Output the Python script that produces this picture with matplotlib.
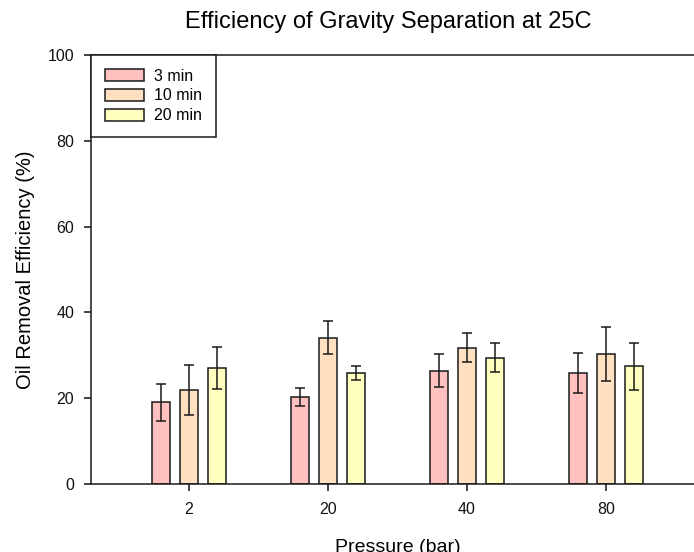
import numpy as np
import matplotlib
matplotlib.use("Agg")
import matplotlib.pyplot as plt

plt.rcParams['font.family'] = ['Liberation Sans', 'DejaVu Sans']

pressures = ['2', '20', '40', '80']
times = ['3 min', '10 min', '20 min']
eff_3 = [19.0, 20.3, 26.4, 25.9]
err_3 = [4.2, 2.1, 3.9, 4.6]
eff_10 = [21.9, 34.1, 31.8, 30.3]
err_10 = [5.9, 3.9, 3.3, 6.4]
eff_20 = [27.0, 25.9, 29.4, 27.4]
err_20 = [4.9, 1.6, 3.4, 5.4]
colors = ['#ffc0c0', '#ffe0c0', '#ffffc0']

W, H = 694, 552
fig = plt.figure(figsize=(W / 100, H / 100), dpi=100)
ax = fig.add_axes([91 / W, (H - 484) / H, (704 - 91) / W, (484 - 55) / H])

x = np.arange(len(pressures))
width = 0.126
for i, (vals, errs, lab) in enumerate(zip([eff_3, eff_10, eff_20],
                                           [err_3, err_10, err_20], times)):
    ax.bar(x + (i - 1) * 0.2, vals, width, yerr=errs, color=colors[i],
           edgecolor='#1a1a1a', linewidth=1.1, label=lab,
           error_kw=dict(ecolor='#1a1a1a', elinewidth=1.1, capsize=3.5,
                         capthick=1.1))

ax.set_xlim(-0.705, 3.705)
ax.set_ylim(0, 100)
ax.set_xticks(x)
ax.set_xticklabels(pressures)
ax.set_yticks(np.arange(0, 101, 20))
ax.tick_params(axis='both', direction='out', length=5, width=1.1,
               labelsize=11.5, colors='#111111')
ax.tick_params(axis='x', pad=8)
ax.tick_params(axis='y', pad=7)
for sp in ax.spines.values():
    sp.set_linewidth(1.1)
    sp.set_color('#1a1a1a')

ax.set_xlabel('Pressure (bar)', fontsize=14, labelpad=16)
ax.set_ylabel('Oil Removal Efficiency (%)', fontsize=14.5, labelpad=9)
fig.text(388 / W, 1 - 22 / H, 'Efficiency of Gravity Separation at 25C',
         fontsize=17, ha='center', va='center')

leg = ax.legend(loc='upper left', bbox_to_anchor=(0, 1), borderaxespad=0,
                fancybox=False, edgecolor='#1a1a1a', fontsize=11.5,
                handlelength=2.45, handleheight=0.78, labelspacing=0.3,
                handletextpad=0.65, borderpad=0.85, framealpha=1)
leg.get_frame().set_linewidth(1.1)

fig.savefig('out.png', dpi=100)
